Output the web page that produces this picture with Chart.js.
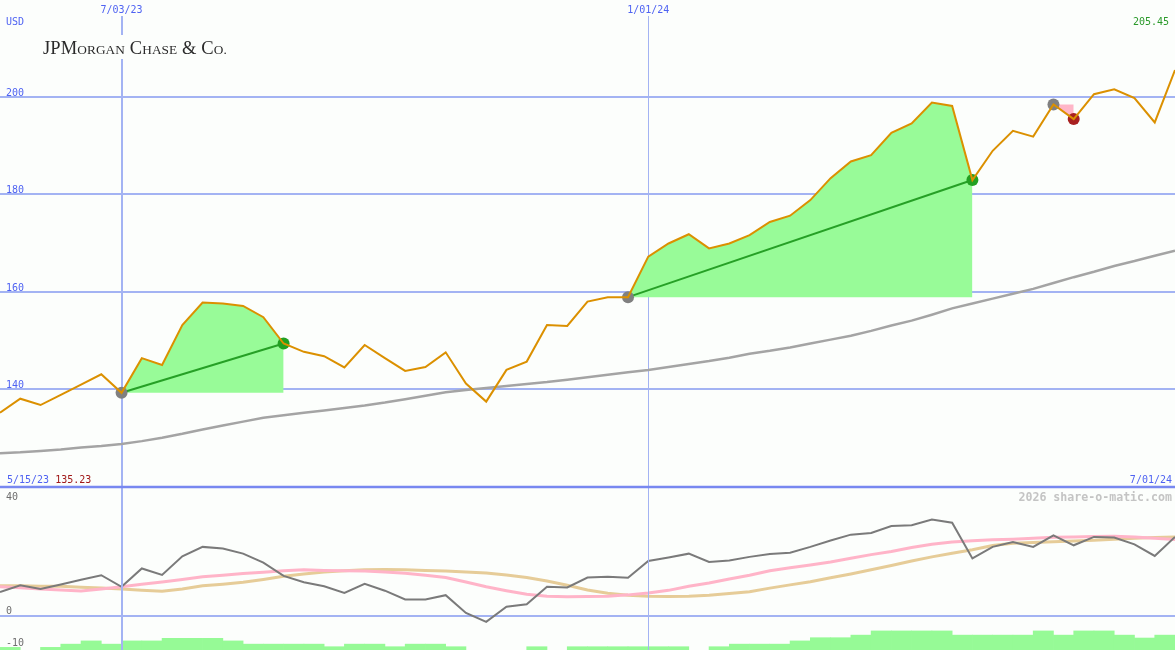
<!DOCTYPE html>
<html>
<head>
<meta charset="utf-8">
<script src="https://cdn.jsdelivr.net/npm/chart.js@4.4.1/dist/chart.umd.min.js"></script>
<style>
  html, body { margin: 0; padding: 0; background: #fcfefc; }
  #wrap { position: relative; width: 1175px; height: 650px; overflow: hidden; }
  canvas { position: absolute; left: 0; }
  #top { top: 0; }
  #bottom { top: 485px; }
</style>
</head>
<body>
<div id="wrap">
  <canvas id="top" width="1175" height="485"></canvas>
  <canvas id="bottom" width="1175" height="165"></canvas>
</div>
<script>
// weekly closes, week 0 = 5/15/23 ... week 58 = 7/01/24
const price = [135.23, 138.1, 136.8, 138.9, 141.0, 143.1, 139.3, 146.4, 145.0, 153.2,
  157.8, 157.6, 157.1, 154.8, 149.4, 147.7, 146.8, 144.5, 149.1, 146.4,
  143.8, 144.6, 147.6, 141.2, 137.5, 144.0, 145.7, 153.2, 153.0, 158.0,
  158.9, 158.9, 167.2, 169.9, 171.8, 168.9, 169.9, 171.6, 174.3, 175.6,
  178.8, 183.3, 186.7, 188.0, 192.6, 194.5, 198.8, 198.1, 182.9, 188.9,
  193.0, 191.8, 198.4, 195.4, 200.5, 201.5, 199.7, 194.7, 205.45];

// slow moving average (grey)
const avg = [126.9, 127.1, 127.4, 127.7, 128.1, 128.4, 128.8, 129.4, 130.1, 130.9,
  131.8, 132.6, 133.4, 134.2, 134.7, 135.2, 135.7, 136.2, 136.7, 137.3,
  138.0, 138.7, 139.4, 139.9, 140.3, 140.7, 141.1, 141.5, 142.0, 142.5,
  143.0, 143.5, 144.0, 144.6, 145.2, 145.8, 146.5, 147.3, 147.9, 148.6,
  149.4, 150.2, 151.0, 152.0, 153.1, 154.1, 155.3, 156.6, 157.6, 158.6,
  159.6, 160.6, 161.8, 163.0, 164.1, 165.3, 166.3, 167.4, 168.4];

// lower panel
const osc = [7.4, 9.5, 8.3, 9.7, 11.2, 12.6, 9.0, 14.7, 12.7, 18.5,
  21.4, 20.9, 19.3, 16.5, 12.4, 10.4, 9.2, 7.1, 9.9, 7.8,
  5.1, 5.1, 6.4, 0.9, -1.9, 2.8, 3.6, 9.0, 8.8, 11.9,
  12.1, 11.8, 17.0, 18.1, 19.3, 16.7, 17.2, 18.3, 19.2, 19.6,
  21.4, 23.4, 25.2, 25.7, 27.9, 28.1, 29.9, 28.9, 17.8, 21.4,
  22.9, 21.4, 25.0, 21.9, 24.5, 24.3, 22.2, 18.6, 24.5];

const oscPink = [9.0, 8.7, 8.3, 8.0, 7.7, 8.3, 9.0, 9.8, 10.5, 11.3,
  12.1, 12.6, 13.1, 13.5, 14.0, 14.3, 14.1, 14.0, 13.9, 13.6,
  13.2, 12.6, 11.9, 10.5, 9.0, 7.8, 6.7, 6.1, 5.9, 6.0,
  6.1, 6.5, 7.1, 7.9, 9.2, 10.2, 11.4, 12.6, 14.0, 14.9,
  15.8, 16.7, 17.9, 19.0, 20.0, 21.2, 22.2, 22.9, 23.3, 23.6,
  23.8, 24.1, 24.4, 24.5, 24.6, 24.7, 24.5, 24.1, 23.7];

const oscTan = [9.3, 9.3, 9.2, 9.2, 8.9, 8.6, 8.3, 7.9, 7.6, 8.3,
  9.3, 9.8, 10.4, 11.3, 12.3, 13.0, 13.6, 14.0, 14.3, 14.4,
  14.3, 14.1, 13.9, 13.6, 13.3, 12.7, 11.9, 10.8, 9.5, 8.0,
  7.0, 6.4, 6.1, 6.0, 6.1, 6.4, 6.9, 7.5, 8.6, 9.6,
  10.6, 11.8, 13.0, 14.3, 15.6, 17.0, 18.3, 19.4, 20.5, 21.8,
  22.5, 22.8, 23.0, 23.2, 23.5, 23.8, 24.1, 24.3, 24.5];

// weekly histogram bars (null = no bar)
const histo = [-9.8, null, -9.8, -8.8, -7.8, -8.8, -7.8, -7.8, -7.0, -7.0,
  -7.0, -7.8, -8.8, -8.8, -8.8, -8.8, -9.6, -8.8, -8.8, -9.6,
  -8.8, -8.8, -9.6, null, null, null, -9.6, null, -9.6, -9.6,
  -9.6, -9.6, -9.6, -9.6, null, -9.6, -8.8, -8.8, -8.8, -7.8,
  -6.8, -6.8, -6.0, -4.7, -4.7, -4.7, -4.7, -6.0, -6.0, -6.0,
  -6.0, -4.7, -6.0, -4.7, -4.7, -6.0, -6.9, -6.0];

// trade signals (week indices)
const gainStart = [6, 31];
const gainEnd = [14, 48];
const lossStart = [52];
const lossEnd = [53];

const dateTickWeeks = [6, 32];
const dateTickLabels = ['7/03/23', '1/01/24'];
const priceTicks = [140, 160, 180, 200];
const oscTicks = [40, 0, -10];
const firstLabel = '5/15/23';
const lastLabel = '7/01/24';

const BG = '#fcfefc';
const GRID = '#a3b3f3';
const BLUE = '#4f63f2';
const MONO = '"DejaVu Sans Mono", monospace';

const pts = (arr, from, to) => arr.slice(from, to + 1).map((v, j) => ({ x: from + j, y: v }));

// ---------- top panel ----------
const topSets = [
  { data: pts(price, 0, price.length - 1), borderColor: '#db9000', borderWidth: 2, order: 0 },
  { data: pts(avg, 0, avg.length - 1), borderColor: '#a4a4a4', borderWidth: 2.5, order: 5 }
];
gainStart.forEach((s, k) => {
  const e = gainEnd[k];
  topSets.push({ data: pts(price, s, e), fill: { value: price[s] }, backgroundColor: '#98fb98', borderWidth: 0, order: 6 });
  topSets.push({ data: [{ x: s, y: price[s] }, { x: e, y: price[e] }], borderColor: '#26a026', borderWidth: 2, order: 3 });
  topSets.push({ data: [{ x: s, y: price[s] }], showLine: false, pointRadius: 6, pointBackgroundColor: '#808080', pointBorderWidth: 0, order: 1 });
  topSets.push({ data: [{ x: e, y: price[e] }], showLine: false, pointRadius: 6, pointBackgroundColor: '#22a022', pointBorderWidth: 0, order: 1 });
});
lossStart.forEach((s, k) => {
  const e = lossEnd[k];
  topSets.push({ data: pts(price, s, e), fill: { value: price[s] }, backgroundColor: '#ffb6c8', borderWidth: 0, order: 6 });
  topSets.push({ data: [{ x: s, y: price[s] }], showLine: false, pointRadius: 6, pointBackgroundColor: '#808080', pointBorderWidth: 0, order: 1 });
  topSets.push({ data: [{ x: e, y: price[e] }], showLine: false, pointRadius: 6, pointBackgroundColor: '#a82020', pointBorderWidth: 0, order: 1 });
});

function drawTitle(ctx) {
  const parts = [['J', 1], ['P', 1], ['M', 1], ['ORGAN', 0], [' ', 1], ['C', 1], ['HASE', 0],
    [' & ', 1], ['C', 1], ['O.', 0]];
  const big = '18.5px "Liberation Serif", serif', small = '13.3px "Liberation Serif", serif';
  ctx.fillStyle = BG;
  ctx.fillRect(38, 35, 194, 24);
  ctx.fillStyle = '#2a2a2a';
  ctx.textAlign = 'left';
  let x = 43;
  parts.forEach(([t, isBig]) => {
    ctx.font = isBig ? big : small;
    for (const ch of t) {
      ctx.fillText(ch, x, 53.5);
      x += ctx.measureText(ch).width + 0.1;
    }
  });
}

const topDecor = {
  id: 'topDecor',
  beforeDatasetsDraw(chart) {
    const { ctx, scales: { x, y }, width, height } = chart;
    ctx.save();
    ctx.strokeStyle = GRID;
    ctx.lineWidth = 2;
    priceTicks.forEach(v => {
      const py = Math.round(y.getPixelForValue(v));
      ctx.beginPath(); ctx.moveTo(0, py); ctx.lineTo(width, py); ctx.stroke();
    });
    dateTickWeeks.forEach((w, k) => {
      const px = Math.round(x.getPixelForValue(w)) + (k === 0 ? 0 : 0.5);
      ctx.lineWidth = k === 0 ? 2 : 1;
      ctx.beginPath(); ctx.moveTo(px, 16); ctx.lineTo(px, height); ctx.stroke();
    });
    drawTitle(ctx);
    ctx.restore();
  },
  afterDraw(chart) {
    const { ctx, scales: { x, y }, width } = chart;
    ctx.save();
    ctx.font = '10px ' + MONO;
    ctx.fillStyle = BLUE;
    ctx.textAlign = 'left';
    ctx.fillText('USD', 6, 25);
    priceTicks.forEach(v => ctx.fillText(String(v), 6, Math.round(y.getPixelForValue(v)) - 1.5));
    ctx.textAlign = 'center';
    dateTickWeeks.forEach((w, k) => ctx.fillText(dateTickLabels[k], x.getPixelForValue(w), 13));
    ctx.textAlign = 'left';
    ctx.fillText(firstLabel, 7, 483);
    const w0 = ctx.measureText(firstLabel + ' ').width;
    ctx.fillStyle = '#a01818';
    ctx.fillText(price[0].toFixed(2), 7 + w0, 483);
    ctx.textAlign = 'right';
    ctx.fillStyle = BLUE;
    ctx.fillText(lastLabel, width - 3, 483);
    ctx.fillStyle = '#2a9a2a';
    ctx.fillText(price[price.length - 1].toFixed(2), width - 6, 25);
    ctx.restore();
  }
};

new Chart(document.getElementById('top'), {
  type: 'line',
  data: { datasets: topSets },
  options: {
    responsive: false,
    animation: false,
    devicePixelRatio: 1,
    layout: { padding: 0, autoPadding: false },
    elements: { point: { radius: 0 }, line: { tension: 0, fill: false } },
    plugins: { legend: { display: false }, tooltip: { enabled: false } },
    scales: {
      x: { type: 'linear', min: 0, max: 58, display: false },
      y: { min: 120.41, max: 219.8, display: false }
    }
  },
  plugins: [topDecor]
});

// ---------- bottom panel ----------
const bottomDecor = {
  id: 'bottomDecor',
  beforeDatasetsDraw(chart) {
    const { ctx, scales: { x, y }, width, height } = chart;
    ctx.save();
    ctx.strokeStyle = GRID;
    ctx.lineWidth = 2;
    const y0 = Math.round(y.getPixelForValue(0));
    ctx.beginPath(); ctx.moveTo(0, y0); ctx.lineTo(width, y0); ctx.stroke();
    ctx.restore();
  },
  afterDatasetsDraw(chart) {
    const { ctx, scales: { x, y }, width, height } = chart;
    ctx.save();
    ctx.strokeStyle = GRID;
    dateTickWeeks.forEach((w, k) => {
      const px = Math.round(x.getPixelForValue(w)) + (k === 0 ? 0 : 0.5);
      ctx.lineWidth = k === 0 ? 2 : 1;
      ctx.beginPath(); ctx.moveTo(px, 0); ctx.lineTo(px, height); ctx.stroke();
    });
    ctx.strokeStyle = '#7888f0';
    ctx.lineWidth = 2.5;
    const yt = y.getPixelForValue(oscTicks[0]);
    ctx.beginPath(); ctx.moveTo(0, yt); ctx.lineTo(width, yt); ctx.stroke();

    ctx.font = '10px ' + MONO;
    ctx.fillStyle = '#6e6e6e';
    ctx.textAlign = 'left';
    ctx.fillText(String(oscTicks[0]), 6, 14.5);
    ctx.fillText(String(oscTicks[1]), 6, Math.round(y.getPixelForValue(oscTicks[1])) - 2.5);
    ctx.fillText(String(oscTicks[2]), 6, Math.round(y.getPixelForValue(oscTicks[2])) - 2.3);
    ctx.font = 'bold 11.6px ' + MONO;
    ctx.fillStyle = '#c4c4c4';
    ctx.textAlign = 'right';
    ctx.fillText('2026 share-o-matic.com', width - 3, 15.7);
    ctx.restore();
  }
};

const bars = [];
histo.forEach((v, i) => { if (v !== null) bars.push({ x: i + 0.5, y: [-11, v] }); });

new Chart(document.getElementById('bottom'), {
  type: 'line',
  data: {
    datasets: [
      { data: pts(osc, 0, osc.length - 1), borderColor: '#7a7a7a', borderWidth: 2, order: 0 },
      { data: pts(oscPink, 0, oscPink.length - 1), borderColor: '#ffb4c8', borderWidth: 3, order: 1 },
      { data: pts(oscTan, 0, oscTan.length - 1), borderColor: '#e6cc98', borderWidth: 3, order: 2 },
      { type: 'bar', data: bars, backgroundColor: '#96fa96', borderWidth: 0,
        barPercentage: 1, categoryPercentage: 1, order: 3 }
    ]
  },
  options: {
    responsive: false,
    animation: false,
    devicePixelRatio: 1,
    layout: { padding: 0, autoPadding: false },
    elements: { point: { radius: 0 }, line: { tension: 0, fill: false } },
    plugins: { legend: { display: false }, tooltip: { enabled: false } },
    scales: {
      x: { type: 'linear', min: 0, max: 58, offset: false, display: false },
      y: { min: -10.62, max: 40.62, display: false }
    }
  },
  plugins: [bottomDecor]
});
</script>
</body>
</html>
